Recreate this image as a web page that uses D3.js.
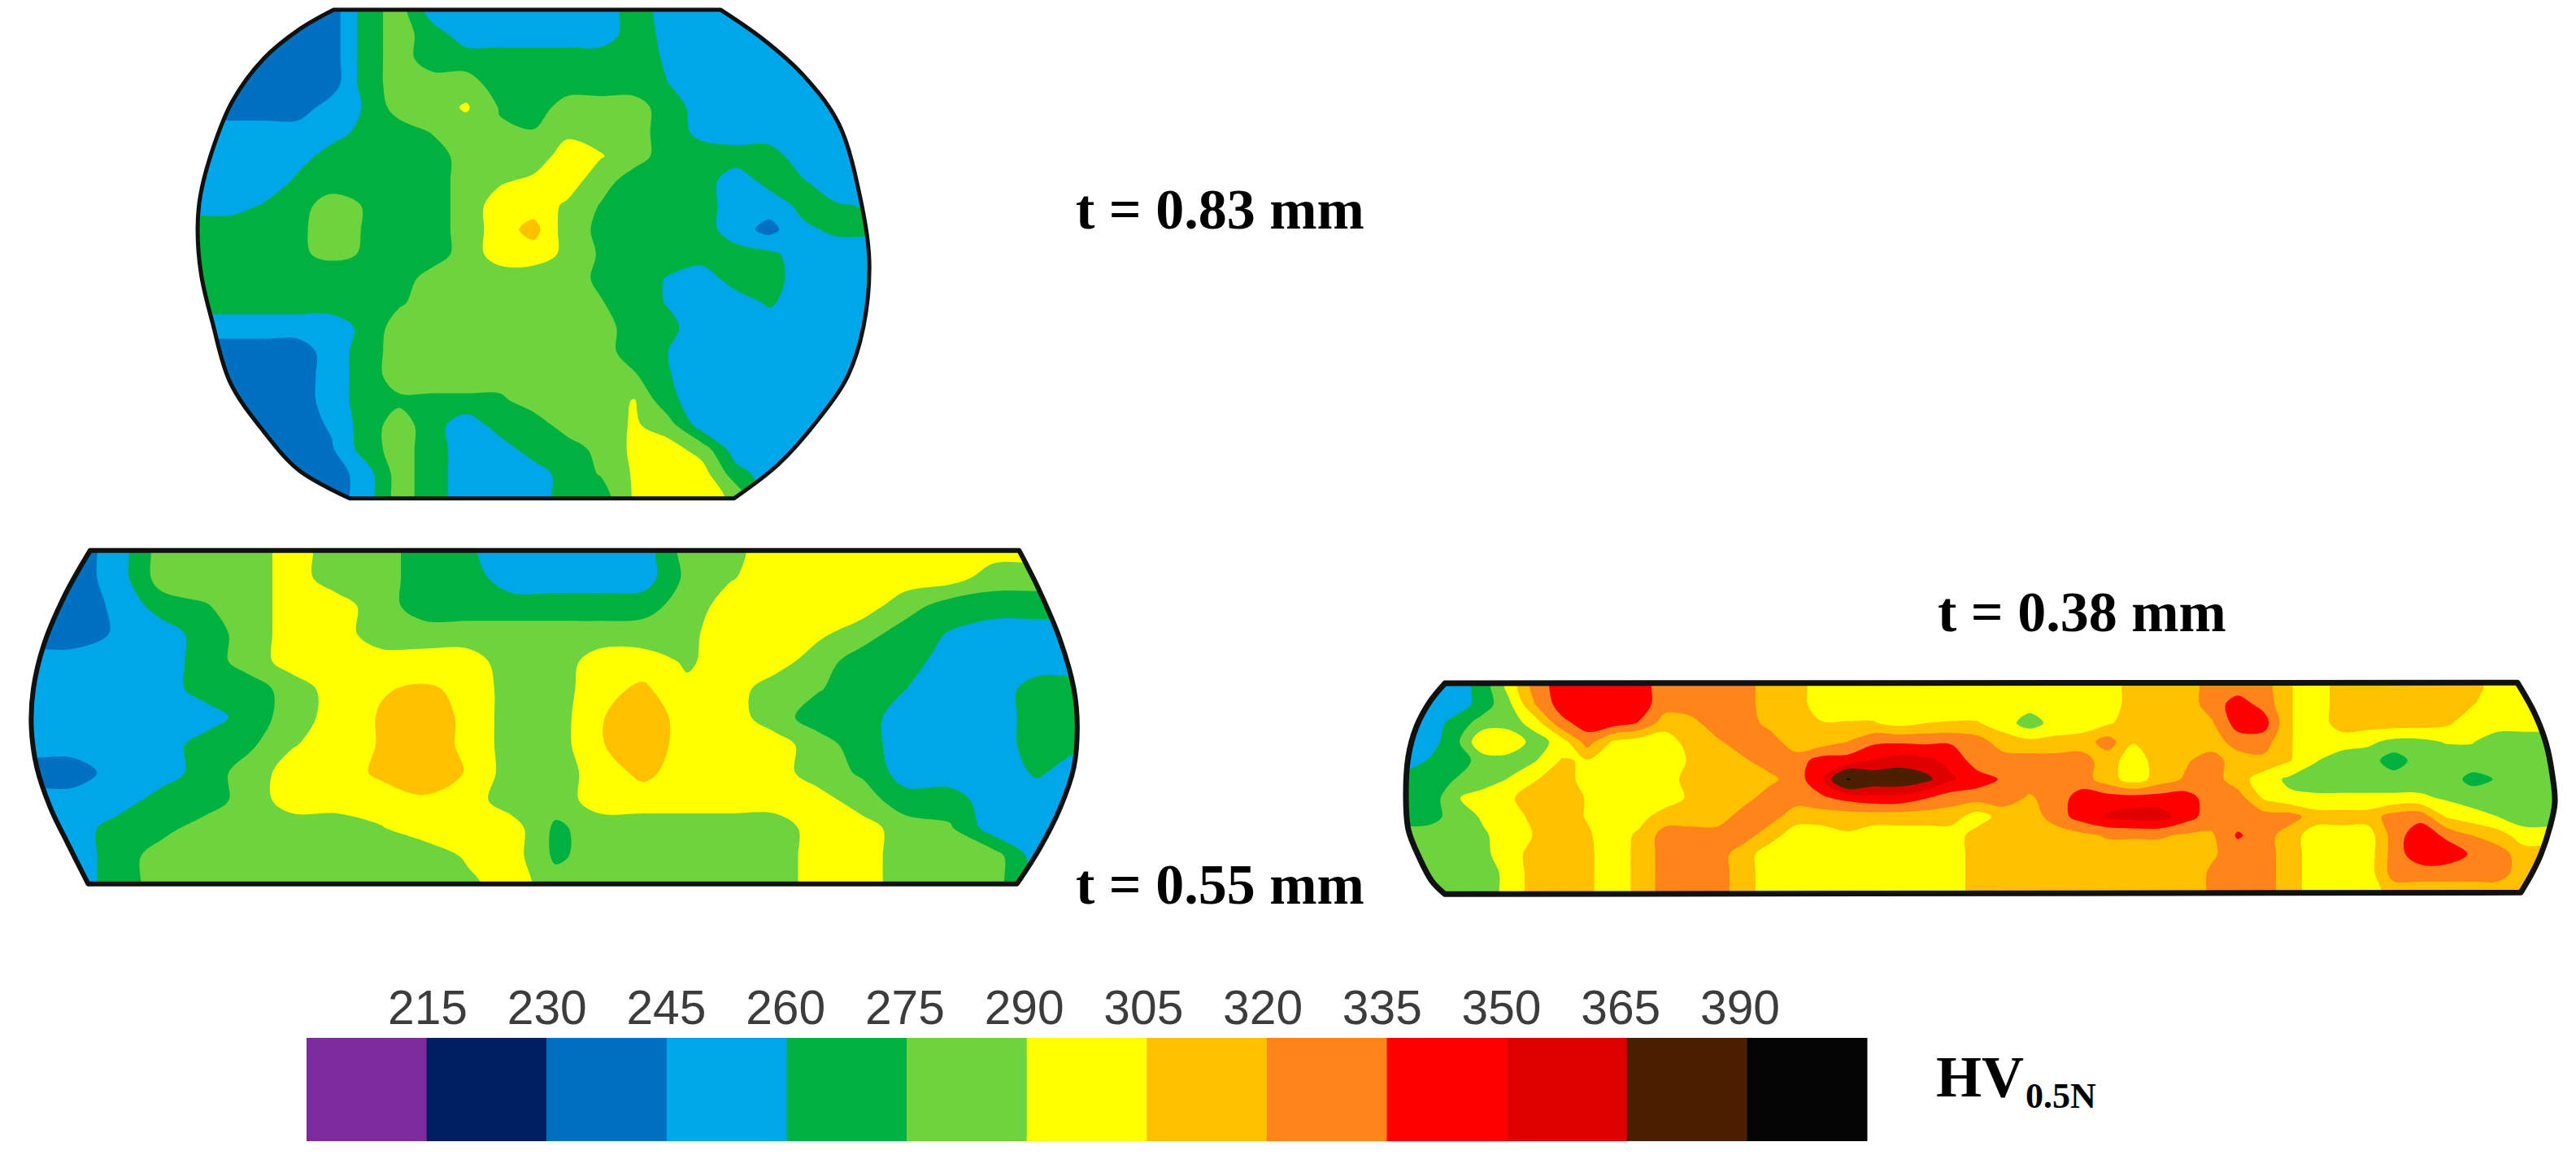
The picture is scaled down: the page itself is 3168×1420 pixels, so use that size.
<!DOCTYPE html>
<html><head><meta charset="utf-8">
<script src="https://cdn.jsdelivr.net/npm/d3@7"></script>
<style>html,body{margin:0;background:#fff}svg{display:block}</style></head>
<body><svg id="c" width="3168" height="1420"></svg>
<script>
// Hardness scale
const thresholds=[215,230,245,260,275,290,305,320,335,350,365,390];
const bandColors=["#7F2BA0","#001E62","#0070C0","#00A6EA","#00B140","#6DD43F","#FFFF00","#FFC000","#FF8419","#FF0000","#E00000","#4A2000","#050505"];
const tickLabels=["215","230","245","260","275","290","305","320","335","350","365","390"];
const captions=["t = 0.83 mm","t = 0.55 mm","t = 0.38 mm"];

// t = 0.83 mm hardness grid
const gridAx=[40,115,191,266,342,417,493,568,644,719,795,870,946,1021,1097,1172,1248,1323,1399,1474,1550];
const gridAy=[30,105,180,254,329,404,479,553,628,703,778,852,927,1002,1077,1151,1226,1301,1376,1450,1525];
const gridA=[
[237,237,237,237,237,267,282,252,252,252,252,252,252,267,254,252,252,252,252,252,252],
[237,237,237,237,237,267,282,267,252,252,252,252,252,267,256,252,252,252,252,252,252],
[237,237,237,237,237,267,282,267,267,267,267,267,267,267,258,252,252,252,252,252,252],
[237,237,237,237,237,267,282,282,282,267,267,267,267,267,260,252,252,252,252,252,252],
[237,237,237,237,252,261,282,282,292,274,267,282,282,282,267,254,252,252,252,252,252],
[252,252,252,252,256,263,267,276,282,277,276,287,285,282,267,256,252,252,252,252,252],
[252,252,252,256,264,267,267,267,282,282,282,297,291,282,267,267,267,267,252,252,252],
[252,252,252,262,267,267,267,267,282,288,293,297,282,267,267,267,252,265,261,252,252],
[255,255,261,269,282,274,267,267,282,297,297,288,274,267,267,267,252,252,264,261,259],
[267,267,267,272,282,274,267,267,282,297,311,282,272,267,267,267,252,240,257,263,263],
[267,267,267,273,278,274,267,267,282,297,297,287,273,267,267,267,266,263,254,252,252],
[267,267,267,267,267,267,267,282,282,282,282,282,272,267,259,252,267,267,252,252,252],
[267,267,267,267,267,267,273,282,282,282,282,282,276,267,259,252,252,262,252,252,252],
[252,252,252,252,252,264,282,282,282,282,282,282,282,267,264,252,252,252,252,252,252],
[237,237,237,237,252,267,282,282,282,282,282,282,282,267,260,252,252,252,252,252,252],
[237,237,237,237,252,267,282,282,282,282,282,282,282,277,261,252,252,252,252,252,252],
[237,237,237,237,252,267,272,272,272,272,282,282,282,291,264,252,252,252,252,252,252],
[237,237,237,237,247,267,282,267,250,267,267,282,282,292,282,252,252,252,252,252,252],
[237,237,237,237,243,267,282,267,252,252,267,267,280,293,297,284,252,252,252,252,252],
[237,237,237,237,237,252,282,267,252,252,252,267,276,292,297,297,267,252,252,252,252],
[237,237,237,237,237,252,282,267,252,252,252,267,267,292,297,297,287,252,252,252,252]];
const outlineAleft=[[347,30],[270,90],[190,180],[120,310],[75,460],[48,600],[42,700],[50,840],[75,985],[115,1170],[190,1320],[270,1440],[383,1525]];
const outlineAright=[[1245,1525],[1345,1420],[1430,1290],[1500,1150],[1535,1000],[1548,800],[1530,620],[1480,380],[1400,230],[1310,120],[1215,30]];

// t = 0.55 mm hardness grid
const gridBx=[20,84,148,212,276,340,404,468,532,596,660,724,788,852,916,980,1044,1108,1172,1236,1300,1364,1428,1492,1556];
const gridBy=[50,152,255,357,460,562,665,767,870,972,1075,1177,1280];
const gridB=[
[237,237,252,282,282,282,297,282,282,267,262,252,252,252,252,282,286,297,297,297,297,297,297,297,297],
[237,237,252,282,282,282,297,282,282,267,267,252,252,252,252,279,289,297,297,297,297,297,282,282,282],
[237,237,248,267,274,282,297,297,282,267,267,267,267,267,269,282,297,297,297,297,282,267,267,267,267],
[237,237,247,252,267,282,297,297,282,282,282,282,282,282,282,287,297,297,293,282,267,259,252,252,252],
[252,252,252,252,267,282,297,297,297,297,297,282,282,297,297,288,297,297,282,267,267,252,252,252,252],
[252,252,252,252,267,267,282,297,304,307,302,282,282,300,308,293,297,282,276,267,260,252,252,267,267],
[252,252,252,252,252,267,282,297,306,312,302,282,282,304,312,300,297,282,267,267,252,252,252,267,267],
[252,252,252,252,267,272,289,297,306,312,302,282,282,304,312,300,297,297,282,267,252,252,252,267,262],
[237,237,252,252,267,282,297,297,308,313,304,282,282,297,309,297,297,297,282,273,252,252,252,262,252],
[252,252,252,267,267,282,297,297,297,303,297,282,282,297,297,297,297,297,297,282,267,267,252,252,252],
[252,252,267,270,282,282,282,282,289,297,297,297,272,282,282,282,282,282,297,297,282,277,252,252,252],
[252,252,267,282,282,282,282,282,282,282,292,297,272,282,282,282,282,282,297,297,282,282,282,252,252],
[252,252,267,282,282,282,282,282,282,282,287,297,282,282,282,282,282,282,297,297,282,282,282,252,252]];
const outlineBleft=[[108,50],[70,220],[40,400],[25,560],[22,700],[30,850],[50,1000],[75,1130],[105,1280]];
const outlineBright=[[1462,1280],[1495,1150],[1525,1000],[1545,850],[1550,700],[1545,560],[1525,380],[1495,200],[1465,50]];

// t = 0.38 mm hardness grid
const gridCx=[1728,1760,1792,1824,1856,1888,1920,1952,1984,2016,2048,2080,2112,2144,2176,2208,2240,2272,2304,2336,2368,2400,2432,2464,2496,2528,2560,2592,2624,2656,2688,2720,2752,2784,2816,2848,2880,2912,2944,2976,3008,3040,3072,3104,3136];
const gridCy=[69,138,207,276,345,414,483,552,621,690,759,828];
const gridC=[
[252,252,252,267,296,327,342,342,342,342,327,327,327,327,312,312,297,297,297,297,297,297,297,297,297,297,297,297,312,312,312,327,327,327,306,297,312,312,312,312,312,312,297,297,297],
[252,252,252,267,287,320,342,342,342,342,327,327,327,327,312,312,297,297,297,297,297,297,297,297,297,297,297,297,312,312,312,327,342,330,306,297,312,312,312,312,312,306,297,297,297],
[252,252,267,282,282,297,330,342,342,334,312,316,327,327,316,312,306,306,306,300,305,306,306,298,282,297,297,303,312,312,312,318,342,342,306,297,312,312,312,312,308,297,297,297,297],
[252,254,272,304,304,282,297,327,303,297,297,312,318,327,327,312,312,320,332,333,332,333,327,312,309,309,312,327,306,312,312,312,327,327,306,297,297,293,286,286,291,291,282,282,282],
[252,262,267,282,282,289,306,304,297,297,297,307,312,318,327,327,342,342,351,357,354,346,327,327,327,327,327,312,297,312,318,327,312,316,306,291,282,282,267,282,282,282,282,282,282],
[267,267,276,282,291,304,312,299,297,297,297,312,312,312,316,327,348,392,378,378,370,352,342,333,327,327,327,312,297,312,322,327,312,297,287,282,282,282,282,282,282,271,276,282,282],
[267,267,289,297,303,312,312,304,297,297,297,308,312,314,327,327,332,340,345,345,336,327,327,327,318,327,342,342,342,342,342,327,327,303,293,293,293,293,293,293,288,282,282,282,282],
[267,270,282,292,297,310,312,304,297,300,312,312,312,327,327,312,312,312,312,312,312,312,297,312,312,327,342,352,357,357,342,327,327,327,327,312,312,312,327,330,304,297,290,282,282],
[282,282,282,288,297,306,312,307,297,308,327,327,327,327,312,297,297,303,297,297,297,297,312,312,312,312,316,322,322,322,318,318,337,327,312,297,297,297,327,345,332,320,312,297,297],
[282,282,282,287,297,312,312,308,297,309,327,327,327,312,297,297,297,297,297,297,297,297,312,312,312,312,312,312,312,312,312,318,327,327,312,297,297,297,327,345,345,333,327,312,312],
[282,282,282,282,295,312,312,308,297,309,327,327,327,312,297,297,297,297,297,297,297,297,312,312,312,312,312,312,312,312,312,322,327,327,312,297,297,297,327,327,327,327,327,312,312],
[282,282,282,282,295,312,312,308,297,309,327,327,327,312,297,297,297,297,297,297,297,297,312,312,312,312,312,312,312,312,312,322,327,327,312,297,297,297,312,312,312,312,312,312,312]];
const outlineCleft=[[1777,60],[1758,130],[1742,220],[1732,330],[1729,480],[1732,600],[1745,700],[1761,790],[1777,838]];
const outlineCright=[[3100,832],[3114,760],[3125,690],[3136,590],[3142,500],[3139,400],[3131,280],[3117,170],[3096,58]];

const svg=d3.select("#c");
const defs=svg.append("defs");

const specimens=[
 {id:"a",xs:gridAx,ys:gridAy,grid:gridA,left:outlineAleft,right:outlineAright,sw:5,
  sx:d3.scaleLinear([0,1568],[220,1080]),sy:d3.scaleLinear([0,1568],[0,630])},
 {id:"b",xs:gridBx,ys:gridBy,grid:gridB,left:outlineBleft,right:outlineBright,sw:6,
  sx:d3.scaleLinear([0,1568],[20,1340]),sy:d3.scaleLinear([0,1350],[660,1110])},
 {id:"c",xs:gridCx,ys:gridCy,grid:gridC,left:outlineCleft,right:outlineCright,sw:7,
  sx:d3.scaleLinear([1728,3136],[1728,3136]),sy:d3.scaleLinear([0,870],[820,1110])}
];

function padGrid(g){
  const rows=g.map(r=>[r[0],...r,r[r.length-1]]);
  return [rows[0],...rows,rows[rows.length-1]];
}

specimens.forEach(s=>{
  const n=s.xs.length,m=s.ys.length;
  const padded=padGrid(s.grid).flat();
  const contours=d3.contours().size([n+2,m+2]).thresholds(thresholds).smooth(true)(padded);
  const cx=d3.scaleLinear([1.5,n+0.5],[s.sx(s.xs[0]),s.sx(s.xs[n-1])]);
  const cy=d3.scaleLinear([1.5,m+0.5],[s.sy(s.ys[0]),s.sy(s.ys[m-1])]);
  const ringLine=d3.line().x(d=>cx(d[0])).y(d=>cy(d[1])).curve(d3.curveCatmullRomClosed.alpha(0.5));
  const arc=d3.line().x(d=>s.sx(d[0])).y(d=>s.sy(d[1])).curve(d3.curveCatmullRom.alpha(0.5));
  const outlinePath=arc(s.left)+"L"+arc(s.right).slice(1)+"Z";
  defs.append("clipPath").attr("id","clip-"+s.id).append("path").attr("d",outlinePath);
  const g=svg.append("g").attr("clip-path","url(#clip-"+s.id+")");
  g.selectAll("path").data(contours).join("path")
    .attr("fill",(d,i)=>bandColors[i+1])
    .attr("fill-rule","evenodd")
    .attr("d",d=>d.coordinates.flatMap(poly=>poly.map(ring=>ringLine(ring.slice(0,-1)))).join(""));
  svg.append("path").attr("d",outlinePath).attr("fill","none")
    .attr("stroke","#111").attr("stroke-width",s.sw).attr("stroke-linejoin","round");
});

// Colour bar
const barX=d3.scaleBand().domain(d3.range(bandColors.length)).range([377,2296]);
const barY=d3.scaleLinear([0,1],[1276,1403]);
svg.append("g").selectAll("rect").data(bandColors).join("rect")
  .attr("x",(d,i)=>barX(i)).attr("width",barX.bandwidth()+0.5)
  .attr("y",barY(0)).attr("height",barY(1)-barY(0)).attr("fill",d=>d);
const tickX=d3.scalePoint().domain(tickLabels).range([526,2140]);
svg.append("g").selectAll("text").data(tickLabels).join("text")
  .attr("x",d=>tickX(d)).attr("y",1259).attr("text-anchor","middle")
  .attr("font-family","Liberation Sans").attr("font-size",60).attr("fill","#3c3c3c")
  .attr("textLength",98).attr("lengthAdjust","spacingAndGlyphs").text(d=>d);

// Captions
const capX=[1323,1323,2383],capY=[281,1111,776];
svg.append("g").selectAll("text").data(captions).join("text")
  .attr("x",(d,i)=>capX[i]).attr("y",(d,i)=>capY[i])
  .attr("font-family","Liberation Serif").attr("font-weight","bold").attr("font-size",70)
  .attr("fill","#000").text(d=>d);

// Unit label
const unit=svg.append("text").attr("x",2381).attr("y",1348)
  .attr("font-family","Liberation Serif").attr("font-weight","bold").attr("font-size",72).attr("fill","#000");
unit.append("tspan").text("HV");
unit.append("tspan").attr("font-size",44).attr("dy",14).attr("dx",2).text("0.5N");
</script></body></html>
